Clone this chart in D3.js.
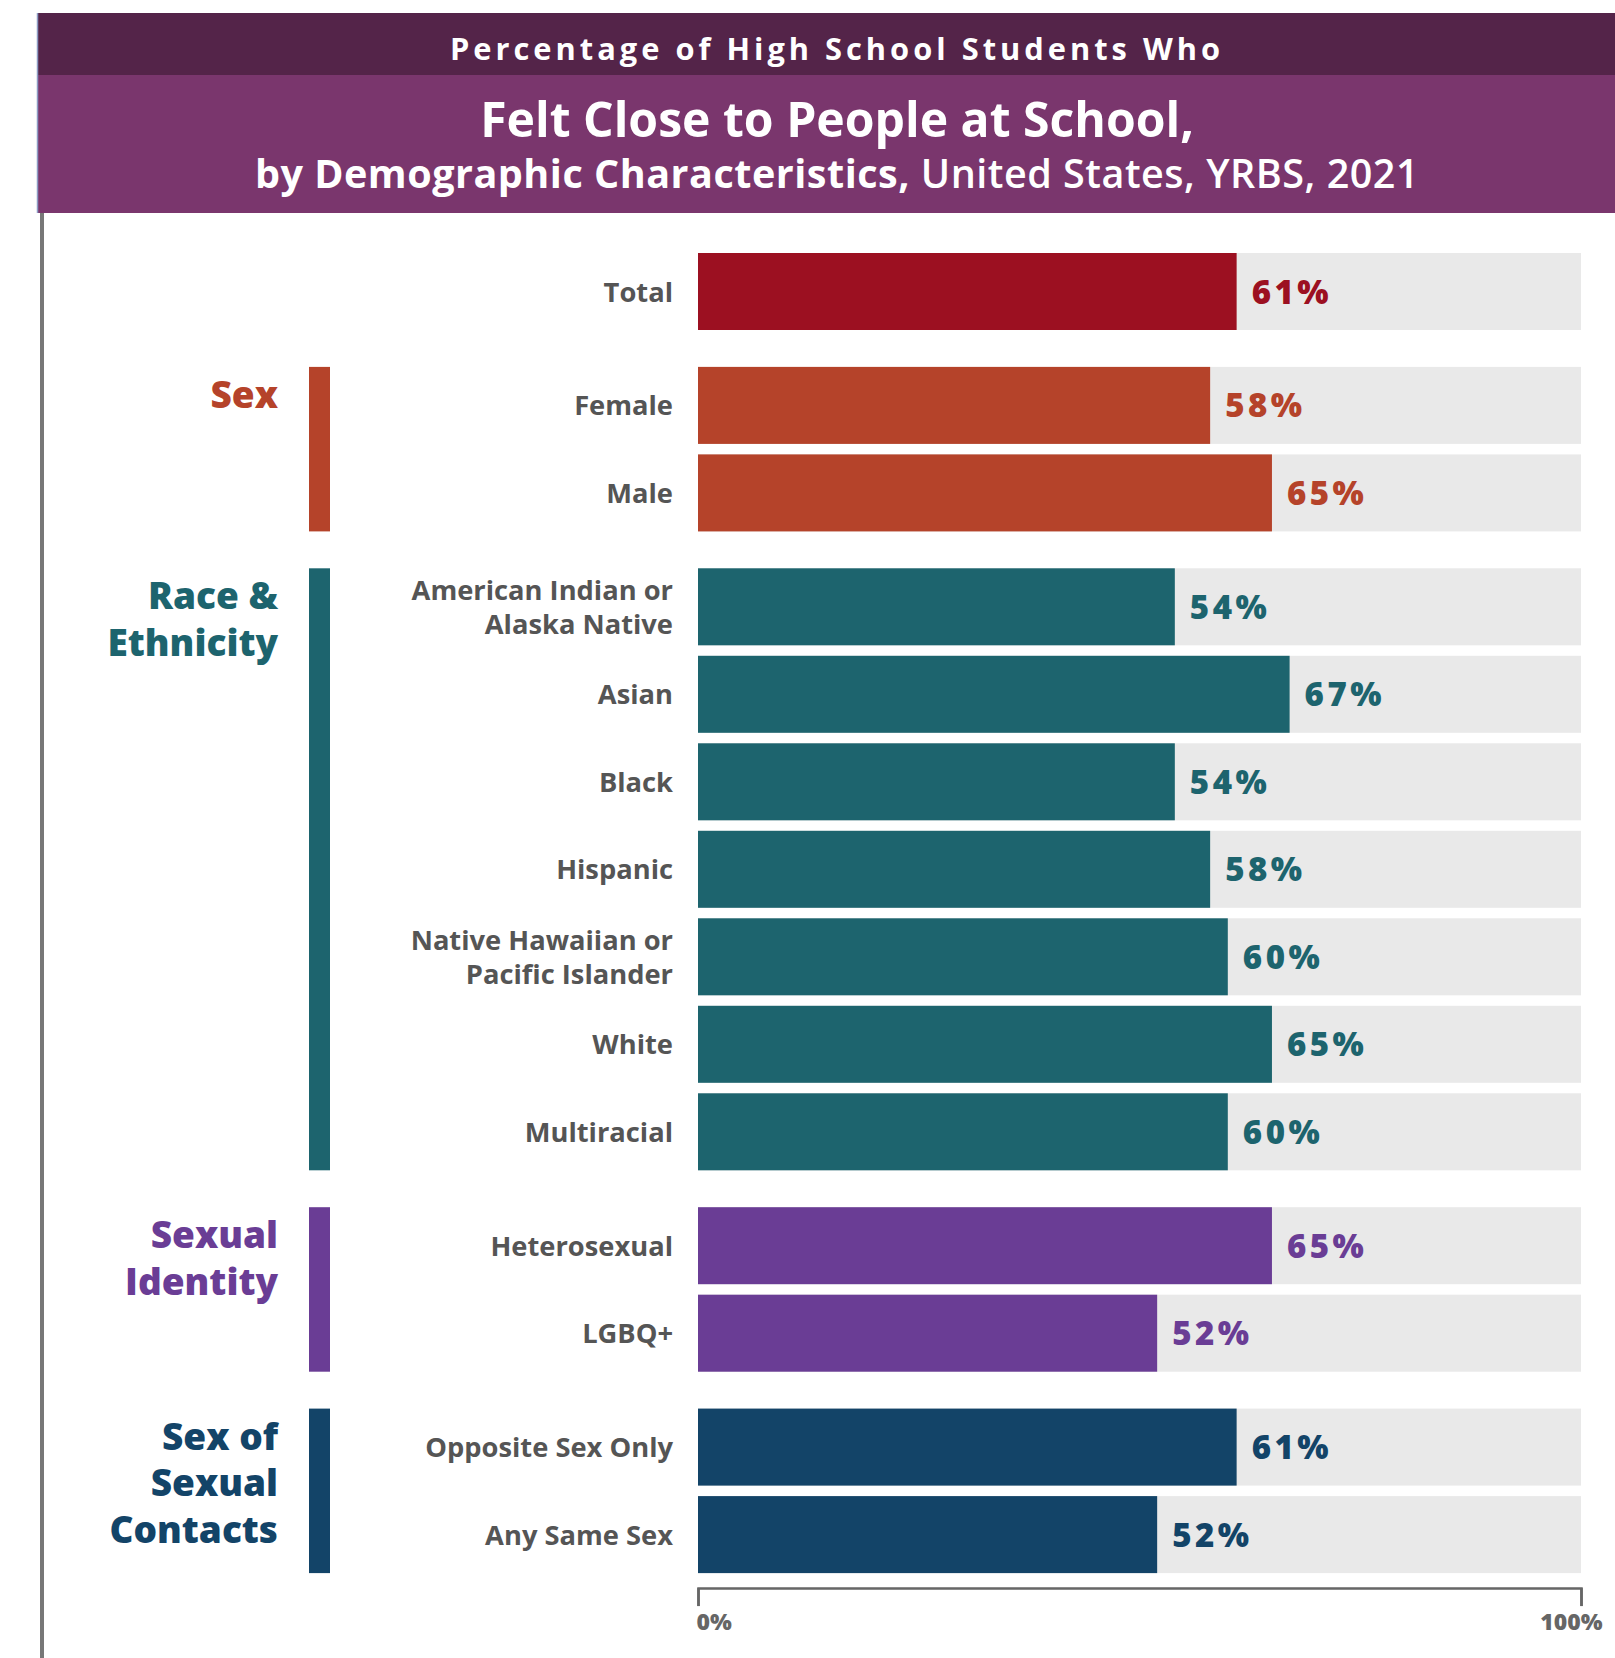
<!DOCTYPE html>
<html lang="en">
<head>
<meta charset="UTF-8">
<title>Felt Close to People at School</title>
<style>
body { margin: 0; background: #fff; }
svg { display: block; font-family: "Open Sans", "Lato", sans-serif; }
.cat { fill: #555; font-size: 27.3px; font-weight: 700; }
.val { font-size: 33px; font-weight: 800; letter-spacing: 3.5px; }
.grp { font-size: 37px; font-weight: 800; }
.axis path, .axis line { stroke: #666; stroke-width: 2.5px; }
.axis text { fill: #666; font-size: 23px; font-weight: 800; font-family: "Open Sans", sans-serif; }
</style>
</head>
<body>
<div id="chart"></div>
<script src="https://cdn.jsdelivr.net/npm/d3@7"></script>
<script>

const categories = [
  ["Total"],
  ["Female"], ["Male"],
  ["American Indian or", "Alaska Native"], ["Asian"], ["Black"], ["Hispanic"],
  ["Native Hawaiian or", "Pacific Islander"], ["White"], ["Multiracial"],
  ["Heterosexual"], ["LGBQ+"],
  ["Opposite Sex Only"], ["Any Same Sex"]
];
const categoryGroup = [0, 1, 1, 2, 2, 2, 2, 2, 2, 2, 3, 3, 4, 4];
const values = [61, 58, 65, 54, 67, 54, 58, 60, 65, 60, 65, 52, 61, 52];

const groupLabels = [[], ["Sex"], ["Race &", "Ethnicity"], ["Sexual", "Identity"], ["Sex of", "Sexual", "Contacts"]];
const groupColors = ["#9c1021", "#b5432a", "#1d646e", "#6a3d95", "#134468"];

const tickValues = [0, 100];
const titleLines = [
  "Percentage of High School Students Who",
  "Felt Close to People at School,",
  ["by Demographic Characteristics,", " United States, YRBS, 2021"]
];

const width = 1615, height = 1658;
const rowStep = 87.5, groupGap = 26.4, barH = 77, firstRowY = 253;

const svg = d3.select("#chart").append("svg")
  .attr("width", width)
  .attr("height", height);

// header bands
svg.append("rect").attr("x", 37).attr("y", 13).attr("width", width - 37).attr("height", 62).attr("fill", "#542449");
svg.append("rect").attr("x", 37).attr("y", 75).attr("width", width - 37).attr("height", 138).attr("fill", "#7a366d");
svg.append("line").attr("x1", 37.5).attr("x2", 37.5).attr("y1", 13).attr("y2", 213)
  .attr("stroke", "#8d9cc4").attr("stroke-width", 1.5);
svg.append("line").attr("x1", 42).attr("x2", 42).attr("y1", 213).attr("y2", height)
  .attr("stroke", "#777").attr("stroke-width", 4);

// fit a text node to a target width by scaling its font size
function fit(sel, target) {
  const w = sel.node().getComputedTextLength();
  const fs = parseFloat(sel.style("font-size"));
  sel.style("font-size", (fs * target / w) + "px");
}

const cx = 837;
const t1 = svg.append("text").attr("x", cx).attr("y", 60).attr("text-anchor", "middle")
  .attr("fill", "#fff").style("font-size", "29px").style("font-weight", 700).style("letter-spacing", "4px")
  .text(titleLines[0]);
fit(t1, 784);
const t2 = svg.append("text").attr("x", cx).attr("y", 137).attr("text-anchor", "middle")
  .attr("fill", "#fff").style("font-size", "46px").style("font-weight", 700)
  .text(titleLines[1]);
fit(t2, 714);
const t3 = svg.append("text").attr("x", cx).attr("y", 188).attr("text-anchor", "middle")
  .attr("fill", "#fff").style("font-size", "38px").style("letter-spacing", "0.5px");
t3.append("tspan").style("font-weight", 700).text(titleLines[2][0]);
t3.append("tspan").style("font-weight", 600).text(titleLines[2][1]);
fit(t3, 1166);

// scales
const x = d3.scaleLinear().domain([0, 100]).range([698, 1581]);
const slot = d3.scaleLinear().domain([0, 1]).range([firstRowY, firstRowY + rowStep]);
const rowY = i => slot(i + categoryGroup[i] * groupGap / rowStep);

const rows = values.map((v, i) => ({ v, i, g: categoryGroup[i], label: categories[i] }));

const row = svg.append("g").selectAll("g").data(rows).join("g")
  .attr("transform", d => `translate(0,${rowY(d.i)})`);

row.append("rect")
  .attr("x", x(0)).attr("width", x(100) - x(0)).attr("height", barH)
  .attr("fill", "#e9e9e9");
row.append("rect")
  .attr("x", x(0)).attr("width", d => x(d.v) - x(0)).attr("height", barH)
  .attr("fill", d => groupColors[d.g]);
row.append("text")
  .attr("class", "val")
  .attr("x", d => x(d.v) + 15)
  .attr("y", barH / 2 + 12)
  .attr("fill", d => groupColors[d.g])
  .text(d => d.v + "%");

const cat = row.append("text")
  .attr("class", "cat")
  .attr("text-anchor", "end")
  .attr("x", x(0) - 25);
cat.selectAll("tspan").data(d => d.label.map((s, k) => ({ s, k, n: d.label.length }))).join("tspan")
  .attr("x", x(0) - 25)
  .attr("y", d => barH / 2 + 10 + (d.k - (d.n - 1) / 2) * 34)
  .text(d => d.s);

// group side bars and labels
const grp = d3.range(1, groupLabels.length).map(g => {
  const idx = rows.filter(r => r.g === g).map(r => r.i);
  return { g, y0: rowY(d3.min(idx)), y1: rowY(d3.max(idx)) + barH };
});
svg.append("g").selectAll("rect").data(grp).join("rect")
  .attr("x", 309).attr("width", 21)
  .attr("y", d => d.y0).attr("height", d => d.y1 - d.y0)
  .attr("fill", d => groupColors[d.g]);
const gl = svg.append("g").selectAll("text").data(grp).join("text")
  .attr("class", "grp")
  .attr("text-anchor", "end")
  .attr("fill", d => groupColors[d.g]);
gl.selectAll("tspan").data(d => groupLabels[d.g].map((s, k) => ({ s, k, y0: d.y0 }))).join("tspan")
  .attr("x", 278)
  .attr("y", d => d.y0 + 41 + d.k * 46.5)
  .text(d => d.s);

// axis bracket
const axisY = rowY(values.length - 1) + barH + 15;
const axis = svg.append("g").attr("class", "axis")
  .attr("transform", `translate(0,${axisY})`)
  .call(d3.axisBottom(x).tickValues(tickValues).tickSize(18).tickSizeOuter(18).tickPadding(8).tickFormat(d => d + "%"));
axis.selectAll(".tick text")
  .attr("text-anchor", d => d === 0 ? "start" : "end")
  .attr("dx", d => d === 0 ? -2 : 21);
</script>
</body>
</html>
